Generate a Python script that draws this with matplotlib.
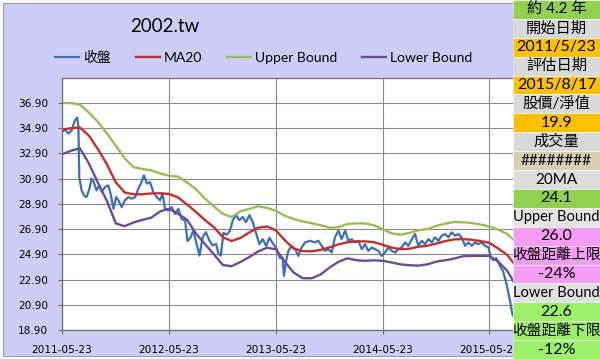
import matplotlib
matplotlib.use('Agg')
import matplotlib.pyplot as plt
import matplotlib.dates as mdates
import pandas as pd
from matplotlib.patches import Rectangle

plt.rcParams['font.family'] = ['DejaVu Sans', 'Noto Sans CJK TC']

  ## data
title = '2002.tw'
series_names = ['收盤', 'MA20', 'Upper Bound', 'Lower Bound']

  # MA20 / bands, sampled monthly
band_dates = ['2011-05-23', '2011-06-23', '2011-07-23', '2011-08-23', '2011-09-23', '2011-10-23',
              '2011-11-23', '2011-12-23', '2012-01-23', '2012-02-23', '2012-03-23', '2012-04-23',
              '2012-05-23', '2012-06-23', '2012-07-23', '2012-08-23', '2012-09-23', '2012-10-23',
              '2012-11-23', '2012-12-23', '2013-01-23', '2013-02-23', '2013-03-23', '2013-04-23',
              '2013-05-23', '2013-06-23', '2013-07-23', '2013-08-23', '2013-09-23', '2013-10-23',
              '2013-11-23', '2013-12-23', '2014-01-23', '2014-02-23', '2014-03-23', '2014-04-23',
              '2014-05-23', '2014-06-23', '2014-07-23', '2014-08-23', '2014-09-23', '2014-10-23',
              '2014-11-23', '2014-12-23', '2015-01-23', '2015-02-23', '2015-03-23', '2015-04-23',
              '2015-05-23', '2015-06-23', '2015-07-23', '2015-08-17']
upper = [36.9, 36.88, 36.75, 36.12, 35.38, 34.5, 33.5, 32.5, 31.8, 31.65, 31.55, 31.3,
         31.12, 31.05, 30.6, 30.05, 29.3, 28.7, 28.1, 27.85, 28.32, 28.5, 28.7, 28.58,
         28.35, 27.95, 27.7, 27.5, 27.35, 27.2, 27.0, 27.05, 27.3, 27.35, 27.35, 27.2,
         26.9, 26.55, 26.45, 26.6, 26.8, 26.9, 27.15, 27.32, 27.46, 27.43, 27.38, 27.25,
         27.1, 26.85, 26.5, 26.0]
ma20 = [34.78, 34.88, 34.95, 34.3, 33.22, 32.05, 30.6, 29.8, 29.65, 29.65, 29.72, 29.73,
        29.68, 29.4, 28.85, 28.25, 27.6, 27.05, 26.25, 25.95, 26.2, 26.65, 27.0, 27.1,
        26.8, 26.0, 25.35, 25.15, 25.13, 25.25, 25.45, 25.68, 25.85, 25.92, 25.92, 25.86,
        25.65, 25.43, 25.3, 25.34, 25.5, 25.57, 25.75, 25.94, 26.08, 26.1, 26.05, 25.95,
        25.8, 25.35, 24.85, 24.1]
lower = [32.82, 33.1, 33.3, 32.1, 30.55, 29.15, 27.35, 27.12, 27.42, 27.63, 27.8, 28.3,
         28.5, 28.1, 27.65, 26.55, 25.7, 24.9, 24.05, 23.95, 24.3, 24.7, 25.12, 25.42,
         25.3, 24.3, 23.45, 23.0, 23.0, 23.3, 23.85, 24.3, 24.58, 24.43, 24.38, 24.42,
         24.38, 24.25, 24.1, 24.03, 24.0, 24.1, 24.32, 24.42, 24.56, 24.75, 24.77, 24.77,
         24.77, 24.3, 23.6, 22.6]

  # closing price
close_dates = ['2011-05-23', '2011-06-02', '2011-06-14', '2011-06-25', '2011-07-06', '2011-07-14',
               '2011-07-18', '2011-07-21', '2011-07-29', '2011-08-06', '2011-08-15', '2011-08-25',
               '2011-09-01', '2011-09-07', '2011-09-18', '2011-09-28', '2011-10-06', '2011-10-17',
               '2011-10-28', '2011-11-05', '2011-11-15', '2011-11-24', '2011-12-02', '2011-12-13',
               '2011-12-24', '2012-01-05', '2012-01-16', '2012-01-28', '2012-02-08', '2012-02-19',
               '2012-02-27', '2012-03-08', '2012-03-19', '2012-03-30', '2012-04-11', '2012-04-22',
               '2012-05-01', '2012-05-09', '2012-05-21', '2012-06-01', '2012-06-12', '2012-06-24',
               '2012-07-05', '2012-07-17', '2012-07-25', '2012-08-05', '2012-08-14', '2012-08-25',
               '2012-09-04', '2012-09-15', '2012-09-26', '2012-10-08', '2012-10-19', '2012-10-31',
               '2012-11-08', '2012-11-16', '2012-11-25', '2012-12-06', '2012-12-17', '2012-12-27',
               '2013-01-07', '2013-01-18', '2013-01-30', '2013-02-10', '2013-02-22', '2013-03-05',
               '2013-03-16', '2013-03-28', '2013-04-08', '2013-04-20', '2013-05-01', '2013-05-12',
               '2013-05-24', '2013-06-06', '2013-06-15', '2013-06-20', '2013-06-27', '2013-07-05',
               '2013-07-16', '2013-07-28', '2013-08-08', '2013-08-19', '2013-08-31', '2013-09-17',
               '2013-10-04', '2013-10-15', '2013-10-27', '2013-11-07', '2013-11-19', '2013-11-30',
               '2013-12-11', '2013-12-23', '2014-01-03', '2014-01-15', '2014-01-26', '2014-02-06',
               '2014-02-18', '2014-03-01', '2014-03-13', '2014-03-24', '2014-04-04', '2014-04-16',
               '2014-04-27', '2014-05-09', '2014-05-20', '2014-05-31', '2014-06-12', '2014-06-23',
               '2014-07-05', '2014-07-16', '2014-07-27', '2014-08-08', '2014-08-19', '2014-08-31',
               '2014-09-11', '2014-09-22', '2014-10-04', '2014-10-15', '2014-10-27', '2014-11-07',
               '2014-11-18', '2014-11-30', '2014-12-11', '2014-12-23', '2015-01-03', '2015-01-14',
               '2015-01-26', '2015-02-06', '2015-02-17', '2015-03-01', '2015-03-12', '2015-03-24',
               '2015-04-04', '2015-04-15', '2015-04-27', '2015-05-08', '2015-05-20', '2015-05-28',
               '2015-06-05', '2015-06-16', '2015-06-28', '2015-07-09', '2015-07-21', '2015-08-02',
               '2015-08-10', '2015-08-17']
close = [34.6, 34.78, 34.46, 34.73, 35.5, 35.73,
         35.05, 31.0, 29.96, 29.56, 29.43, 30.1,
         30.9, 30.7, 29.96, 30.36, 29.83, 30.23,
         30.36, 29.7, 28.5, 29.43, 29.17, 28.63,
         29.17, 29.43, 29.3, 29.43, 30.1, 30.62,
         31.15, 30.5, 30.62, 29.83, 29.43, 29.17,
         29.7, 28.5, 28.37, 28.63, 28.1, 28.5,
         27.7, 27.57, 25.93, 26.25, 26.8, 25.73,
         24.8, 26.25, 26.65, 25.98, 25.6, 25.72,
         24.93, 24.8, 26.6, 26.45, 26.75, 27.6,
         28.0, 27.6, 27.85, 27.45, 28.0, 27.45,
         26.6, 25.7, 26.1, 25.56, 26.2, 25.8,
         25.4, 24.6, 24.64, 23.18, 24.37, 25.17,
         25.57, 25.3, 24.77, 25.44, 25.84, 25.97,
         25.84, 25.97, 25.57, 25.17, 25.3, 25.04,
         26.24, 26.77, 26.1, 26.77, 25.97, 26.1,
         25.84, 25.97, 25.3, 25.7, 25.17, 25.44,
         25.3, 25.17, 24.77, 25.04, 25.44, 25.17,
         25.04, 25.3, 25.44, 25.84, 25.57, 26.1,
         26.5, 25.57, 25.97, 25.7, 26.1, 25.84,
         26.24, 25.97, 26.37, 26.5, 26.24, 26.64,
         26.37, 26.5, 26.24, 25.57, 25.84, 25.57,
         25.84, 25.7, 25.84, 25.57, 25.44, 24.64,
         24.43, 24.59, 23.97, 23.57, 22.51, 21.18,
         20.12, 19.9]

x_ticks = ['2011-05-23', '2012-05-23', '2013-05-23', '2014-05-23', '2015-05-23']
y_ticks = [18.9, 20.9, 22.9, 24.9, 26.9, 28.9, 30.9, 32.9, 34.9, 36.9]

  # side table
panel_labels = ['約 4.2 年', '開始日期', '2011/5/23', '評估日期', '2015/8/17', '股價/淨值', '19.9',
                '成交量', '########', '20MA', '24.1', 'Upper Bound', '26.0', '收盤距離上限',
                '-24%', 'Lower Bound', '22.6', '收盤距離下限', '-12%']
panel_colors = ['#92D050', '#D9D9D9', '#FFC000', '#D9D9D9', '#FFC000', '#D9D9D9', '#FFC000',
                '#D9D9D9', '#D8CFB2', '#DDDDDD', '#92D050', '#E4E4E4', '#F59DF5', '#F59DF5',
                '#F59DF5', '#E0E0E0', '#9CF06A', '#9CF06A', '#9CF06A']
panel_sizes = [11, 11, 11.5, 11, 11.5, 11, 11.5, 11, 11, 11, 11.5, 10.5, 11.5, 10.6,
               11.5, 10.5, 11.5, 10.6, 11.5]

  ## figure
W, H = 600, 359
fig = plt.figure(figsize=(W / 100, H / 100), dpi=100, facecolor='white')

def fx(px):
    return px / W

def fy(py):
    return 1 - py / H

   # chart area background
fig.add_artist(Rectangle((fx(2.5), fy(355.5)), fx(513 - 2.5), (353 / H), transform=fig.transFigure,
                         facecolor='#CDCDF7', edgecolor='#9A9AA8', lw=0.8, zorder=-5))

ax = fig.add_axes([fx(62), fy(330), fx(514.5 - 62), (330 - 78.3) / H])
ax.set_facecolor('white')

bd = pd.to_datetime(band_dates)
cd = pd.to_datetime(close_dates)
ax.plot(cd, close, color='#3D6FB6', lw=1.6, label=series_names[0])
ax.plot(bd, ma20, color='#C0302E', lw=1.7, label=series_names[1])
ax.plot(bd, upper, color='#9BBB59', lw=1.7, label=series_names[2])
ax.plot(bd, lower, color='#6A4E92', lw=1.7, label=series_names[3])

ax.set_xlim(pd.Timestamp('2011-05-23'), pd.Timestamp('2015-08-17'))
ax.set_ylim(18.9, 38.84)
ax.set_xticks(pd.to_datetime(x_ticks))
ax.xaxis.set_major_formatter(mdates.DateFormatter('%Y-%m-%d'))
ax.set_yticks(y_ticks)
ax.set_yticklabels(['%.2f' % v for v in y_ticks])

ax.grid(True, color='#8A8A8A', lw=0.8)
ax.set_axisbelow(True)
for s in ax.spines.values():
    s.set_color('#6E6E6E')
    s.set_linewidth(0.9)
ax.tick_params(axis='x', direction='out', length=3, width=0.8, color='#6E6E6E', pad=8, labelsize=7.6)
ax.tick_params(axis='y', direction='out', length=3, width=0.8, color='#6E6E6E', pad=7, labelsize=7.6)

   # title and legend
fig.text(fx(165), fy(27), title, ha='center', va='center', fontsize=13.5,
         family=['Lato', 'Noto Sans CJK TC'])
fig.legend(loc='center left', bbox_to_anchor=(fx(55), fy(57)), ncol=4, frameon=False,
           prop={'family': ['Lato', 'Noto Sans CJK TC'], 'size': 10},
           handlelength=1.75, handletextpad=0.3, columnspacing=1.75, borderaxespad=0, borderpad=0)

   # side table
row_h = H / len(panel_labels)
for i, (lab, col, sz) in enumerate(zip(panel_labels, panel_colors, panel_sizes)):
    top = i * row_h
    fig.add_artist(Rectangle((fx(513), fy(top + row_h)), fx(W - 513), row_h / H,
                             transform=fig.transFigure, facecolor=col, edgecolor='white',
                             lw=0.4, zorder=10))
    fig.text(fx(556.5), fy(top + row_h / 2), lab, ha='center', va='center', fontsize=sz,
             family=['Lato', 'Noto Sans CJK TC'], zorder=11)

fig.savefig('out.png', dpi=100, facecolor=fig.get_facecolor())
